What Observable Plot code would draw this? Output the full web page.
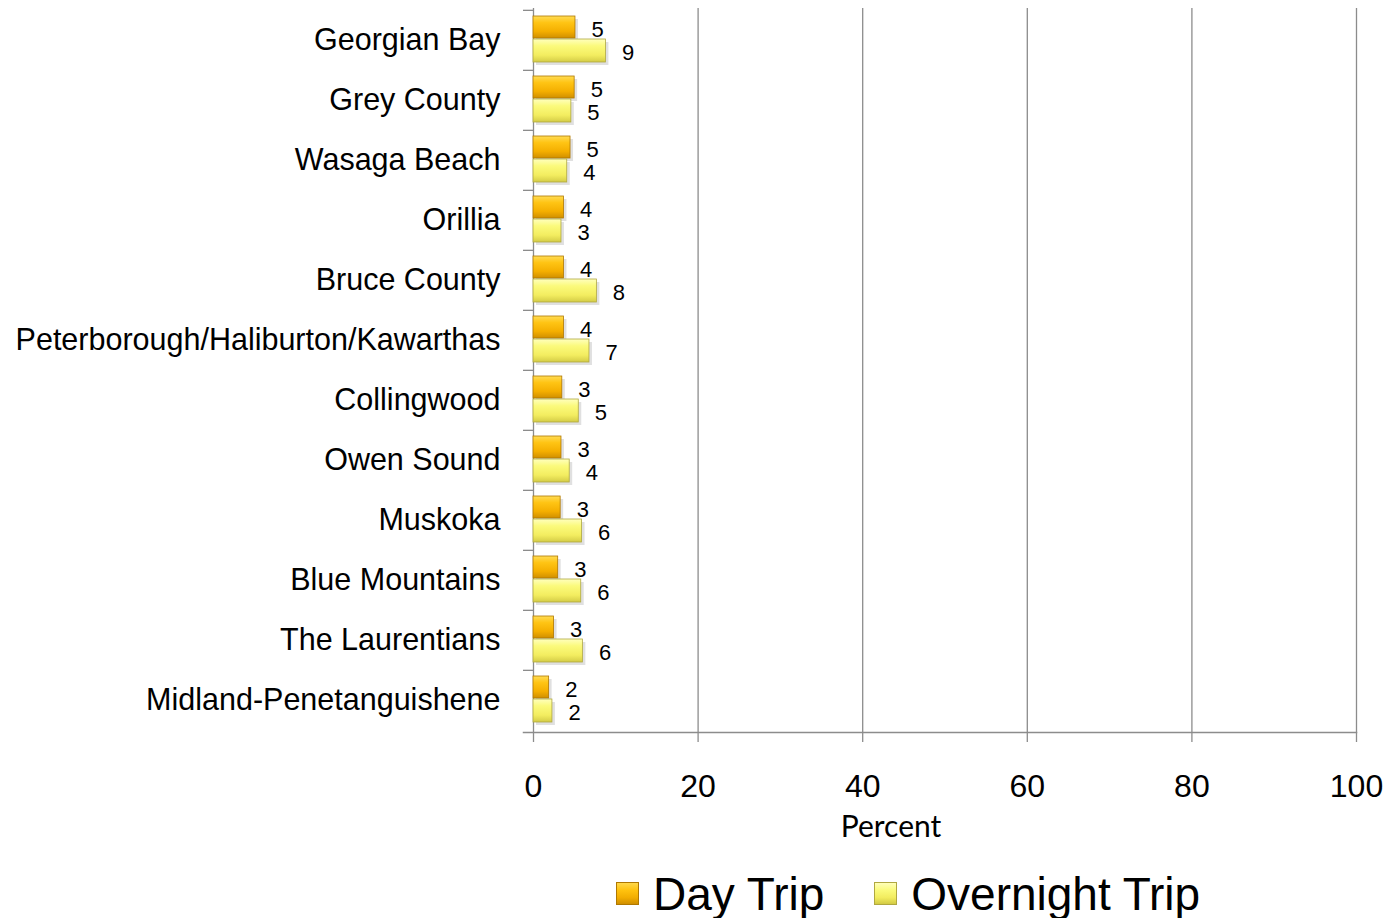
<!DOCTYPE html>
<html>
<head>
<meta charset="utf-8">
<script src="https://cdn.jsdelivr.net/npm/d3@7"></script>
<script src="https://cdn.jsdelivr.net/npm/@observablehq/plot@0.6"></script>
<style>
  html, body { margin: 0; padding: 0; background: #fff; }
  #chart { width: 1394px; }
  .legend { display: flex; align-items: center; height: 73px; margin-top: 12px; padding-left: 616px; font-family: "Liberation Sans", Arial, sans-serif; font-size: 46px; color: #000; }
  .legend .item { display: flex; align-items: center; }
  .legend .sw { width: 23px; height: 23px; margin-right: 14px; box-sizing: border-box; }
  .legend .day { background: linear-gradient(#ffd84a, #ffc20e 35%, #f2ad00 70%, #cf8f00); border: 1px solid #b07800; }
  .legend .night { background: linear-gradient(#ffffb8, #fafa7a 35%, #f2ec5e 70%, #d2ca44); border: 1px solid #b0a840; margin-left: 50px; }
</style>
</head>
<body>
<div id="chart"></div>
<div class="legend">
  <div class="item"><div class="sw day"></div><span>Day Trip</span></div>
  <div class="item"><div class="sw night"></div><span>Overnight Trip</span></div>
</div>
<script>
const categories = ["Georgian Bay", "Grey County", "Wasaga Beach", "Orillia", "Bruce County",
  "Peterborough/Haliburton/Kawarthas", "Collingwood", "Owen Sound", "Muskoka",
  "Blue Mountains", "The Laurentians", "Midland-Penetanguishene"];
const dayTrip = [5.1, 5.0, 4.5, 3.7, 3.7, 3.7, 3.5, 3.4, 3.3, 3.0, 2.5, 1.9];
const overnightTrip = [8.8, 4.6, 4.1, 3.4, 7.7, 6.8, 5.5, 4.4, 5.9, 5.8, 6.0, 2.3];
const dayLabels = [5, 5, 5, 4, 4, 4, 3, 3, 3, 3, 3, 2];
const overnightLabels = [9, 5, 4, 3, 8, 7, 5, 4, 6, 6, 6, 2];
const xTicks = [0, 20, 40, 60, 80, 100];

const dayData = categories.map((c, i) => ({category: c, value: dayTrip[i], label: dayLabels[i]}));
const nightData = categories.map((c, i) => ({category: c, value: overnightTrip[i], label: overnightLabels[i]}));

const W = 1394, H = 845, mt = 8, mb = 113;
const band = (H - mt - mb) / categories.length;

const chart = Plot.plot({
  width: W,
  height: H,
  marginLeft: 533,
  marginRight: 38,
  marginTop: mt,
  marginBottom: mb,
  style: {fontFamily: "Liberation Sans, Arial, sans-serif", background: "#fff", color: "#000"},
  x: {domain: [0, 100]},
  y: {domain: categories, padding: 0},
  marks: [
    Plot.gridX(xTicks, {stroke: "#8c8c8c", strokeOpacity: 1, strokeWidth: 1.3}),
    Plot.frame({anchor: "bottom", insetLeft: -10, stroke: "#8c8c8c", strokeWidth: 1.5}),
    Plot.axisX(xTicks, {tickSize: 10, stroke: "#8c8c8c", strokeWidth: 1.3, tickPadding: 32, fontSize: 32, label: null, tickFormat: d => String(d)}),
    Plot.axisY({tickSize: 0, tickPadding: 33, fontSize: 30.5, label: null}),
    Plot.axisY({tickSize: 10, text: null, dy: -band / 2, stroke: "#8c8c8c", strokeWidth: 1.3, label: null}),
    // shadows
    Plot.barX(dayData, {y: "category", x: "value", insetTop: 9, insetBottom: 29, dx: 3, fill: "#000", fillOpacity: 0.12}),
    Plot.barX(nightData, {y: "category", x: "value", insetTop: 32, insetBottom: 5, dx: 3, fill: "#000", fillOpacity: 0.12}),
    Plot.barX(dayData, {y: "category", x: "value", insetTop: 6, insetBottom: 32, fill: "url(#gradDay)", stroke: "#b07800", strokeWidth: 0.8}),
    Plot.barX(nightData, {y: "category", x: "value", insetTop: 29, insetBottom: 8, fill: "url(#gradNight)", stroke: "#b0a840", strokeWidth: 0.8}),
    Plot.text(dayData, {y: "category", x: "value", text: "label", textAnchor: "start", dx: 16, dy: -11, fontSize: 22}),
    Plot.text(nightData, {y: "category", x: "value", text: "label", textAnchor: "start", dx: 16, dy: 12, fontSize: 22}),
    Plot.text(["Percent"], {frameAnchor: "bottom", dx: -54, dy: 104, fontSize: 30, fontFamily: "Lato, Carlito, sans-serif"})
  ]
});

const svg = d3.select(chart);
const defs = svg.insert("defs", ":first-child");
function grad(id, stops) {
  const g = defs.append("linearGradient").attr("id", id).attr("x1", 0).attr("y1", 0).attr("x2", 0).attr("y2", 1);
  stops.forEach(([o, c]) => g.append("stop").attr("offset", o).attr("stop-color", c));
}
grad("gradDay", [[0, "#ffdc55"], [0.3, "#ffc414"], [0.7, "#f4ae00"], [1, "#d08f00"]]);
grad("gradNight", [[0, "#ffffbe"], [0.3, "#fbfa7c"], [0.7, "#f3ed60"], [1, "#d4cc46"]]);

document.getElementById("chart").appendChild(chart);
</script>
</body>
</html>
